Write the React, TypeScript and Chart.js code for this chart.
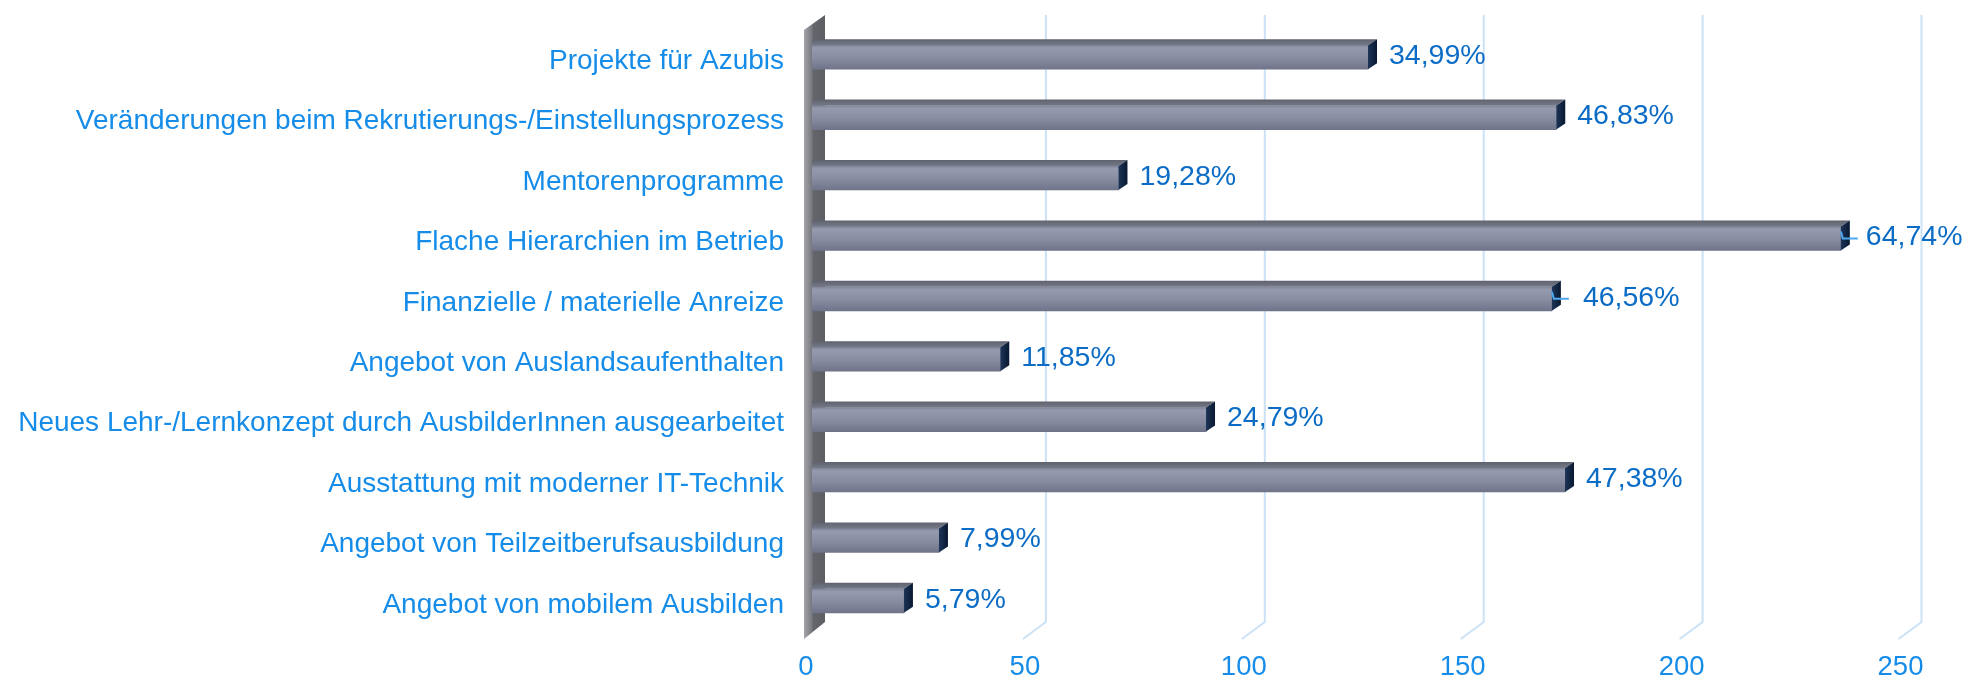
import { useEffect, useRef } from 'react';
import { Chart, registerables } from 'chart.js';

Chart.register(...registerables);

const categories = [
  'Projekte für Azubis',
  'Veränderungen beim Rekrutierungs-/Einstellungsprozess',
  'Mentorenprogramme',
  'Flache Hierarchien im Betrieb',
  'Finanzielle / materielle Anreize',
  'Angebot von Auslandsaufenthalten',
  'Neues Lehr-/Lernkonzept durch AusbilderInnen ausgearbeitet',
  'Ausstattung mit moderner IT-Technik',
  'Angebot von Teilzeitberufsausbildung',
  'Angebot von mobilem Ausbilden',
];
const counts = [127, 170, 70, 235, 169, 43, 90, 172, 29, 21];
const percentLabels = ['34,99%', '46,83%', '19,28%', '64,74%', '46,56%', '11,85%', '24,79%', '47,38%', '7,99%', '5,79%'];
const xTicks = [0, 50, 100, 150, 200, 250];

const FONT = "'Liberation Sans', Arial, sans-serif";
const BAR_H = 24;
const DX = 9;
const DY = 6;
const leaderBars = [3, 4];
const labelShift: Record<number, number> = { 3: 4, 4: 10 };

const deco = {
  id: 'deco',
  beforeDatasetsDraw(chart: any) {
    const { ctx, scales, chartArea } = chart;
    const x = scales.x;
    const top = chartArea.top - 12;
    const floor = chartArea.bottom - 9;
    ctx.save();
    ctx.strokeStyle = '#cbe2f6';
    ctx.lineWidth = 2;
    xTicks.forEach((v) => {
      if (v === 0) return;
      const px = x.getPixelForValue(v);
      ctx.beginPath();
      ctx.moveTo(px + 15, top);
      ctx.lineTo(px + 15, floor);
      ctx.lineTo(px - 8, floor + 17);
      ctx.stroke();
    });
    const x0 = x.getPixelForValue(0);
    const g = ctx.createLinearGradient(x0 - 8, 0, x0 + 13, 0);
    g.addColorStop(0, '#a4a6ac');
    g.addColorStop(0.35, '#7b7c81');
    g.addColorStop(0.45, '#65666b');
    g.addColorStop(1, '#5d5e63');
    ctx.fillStyle = g;
    ctx.beginPath();
    ctx.moveTo(x0 - 8, top + 15);
    ctx.lineTo(x0 + 13, top);
    ctx.lineTo(x0 + 13, floor);
    ctx.lineTo(x0 - 8, floor + 17);
    ctx.closePath();
    ctx.fill();
    ctx.restore();
  },
  afterDatasetsDraw(chart: any) {
    const { ctx } = chart;
    const meta = chart.getDatasetMeta(0);
    ctx.save();
    meta.data.forEach((el: any, i: number) => {
      const t = el.y - BAR_H / 2;
      const b = el.y + BAR_H / 2;
      const gt = ctx.createLinearGradient(0, t - DY, 0, t);
      gt.addColorStop(0, '#5f626e');
      gt.addColorStop(1, '#767a88');
      ctx.fillStyle = gt;
      ctx.beginPath();
      ctx.moveTo(el.base, t - DY);
      ctx.lineTo(el.x + DX, t - DY);
      ctx.lineTo(el.x, t);
      ctx.lineTo(el.base, t);
      ctx.closePath();
      ctx.fill();
      const gs = ctx.createLinearGradient(el.x, 0, el.x + DX, 0);
      gs.addColorStop(0, '#1e3558');
      gs.addColorStop(1, '#081830');
      ctx.fillStyle = gs;
      ctx.beginPath();
      ctx.moveTo(el.x, t);
      ctx.lineTo(el.x + DX, t - DY);
      ctx.lineTo(el.x + DX, b - DY);
      ctx.lineTo(el.x, b);
      ctx.closePath();
      ctx.fill();
      if (leaderBars.includes(i)) {
        ctx.strokeStyle = '#4fa9ef';
        ctx.lineWidth = 2;
        ctx.beginPath();
        ctx.moveTo(el.x, el.y - 7);
        ctx.lineTo(el.x + 2, el.y);
        ctx.lineTo(el.x + 17, el.y);
        ctx.stroke();
      }
      ctx.fillStyle = '#0b6cc6';
      ctx.font = `28.5px ${FONT}`;
      ctx.textAlign = 'left';
      ctx.textBaseline = 'middle';
      ctx.fillText(percentLabels[i], el.x + 21 + (labelShift[i] || 0), el.y - 1);
    });
    ctx.restore();
  },
};

export default function App() {
  const ref = useRef<HTMLCanvasElement | null>(null);
  useEffect(() => {
    if (!ref.current) return;
    const chart = new Chart(ref.current, {
      type: 'bar',
      data: {
        labels: categories,
        datasets: [
          {
            data: counts,
            barThickness: BAR_H,
            borderWidth: 0,
            backgroundColor: (c: any) => {
              const ch = c.chart;
              const area = ch.chartArea;
              if (!area || !ch.scales.y) return '#868a9e';
              const yc = ch.scales.y.getPixelForValue(c.dataIndex);
              const g = ch.ctx.createLinearGradient(0, yc - BAR_H / 2, 0, yc + BAR_H / 2);
              g.addColorStop(0, '#80859a');
              g.addColorStop(0.12, '#959aae');
              g.addColorStop(0.55, '#878ca1');
              g.addColorStop(1, '#6f748a');
              return g;
            },
          },
        ],
      },
      options: {
        indexAxis: 'y',
        responsive: false,
        animation: false,
        devicePixelRatio: 1,
        layout: { padding: { top: 27, right: 59.5, left: 0, bottom: 0 } },
        plugins: { legend: { display: false }, tooltip: { enabled: false } },
        scales: {
          x: {
            min: 0,
            max: 250,
            afterBuildTicks: (s: any) => {
              s.ticks = xTicks.map((v) => ({ value: v }));
            },
            afterFit: (s: any) => {
              s.height = 52;
              s.paddingLeft = 0;
              s.paddingRight = 0;
              s.paddingTop = 0;
              s.paddingBottom = 0;
            },
            grid: { display: false, drawTicks: false },
            border: { display: false },
            ticks: {
              font: { family: FONT, size: 27.5 },
              color: '#168ce9',
              padding: 20,
              labelOffset: -6,
              maxRotation: 0,
              autoSkip: false,
            },
          },
          y: {
            afterFit: (s: any) => {
              s.width = 812;
              s.paddingLeft = 0;
              s.paddingRight = 0;
              s.paddingTop = 0;
              s.paddingBottom = 0;
            },
            grid: { display: false, drawTicks: false },
            border: { display: false },
            ticks: {
              font: { family: FONT, size: 28 },
              color: '#168ce9',
              padding: 28,
              labelOffset: 4,
              autoSkip: false,
            },
          },
        },
      },
      plugins: [deco],
    } as any);
    return () => chart.destroy();
  }, []);
  return (
    <div style={{ position: 'absolute', left: 0, top: 0, width: 1966, height: 683 }}>
      <canvas ref={ref} width={1966} height={683} />
    </div>
  );
}
